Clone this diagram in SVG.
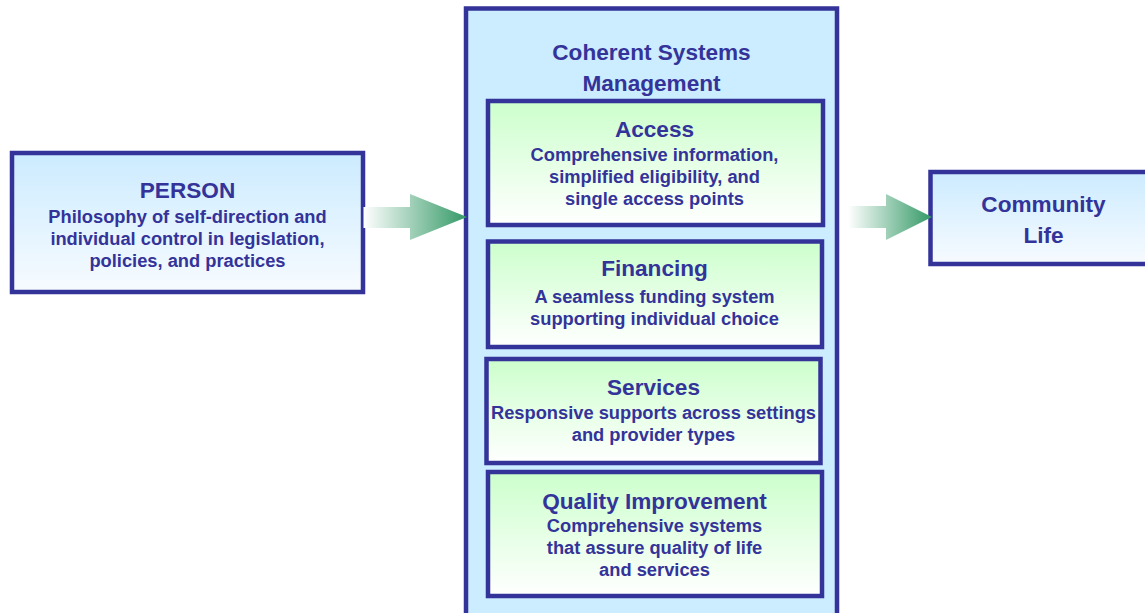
<svg xmlns="http://www.w3.org/2000/svg" width="1145" height="613" viewBox="0 0 1145 613">
  <defs>
    <linearGradient id="blueFade" x1="0" y1="0" x2="0" y2="1">
      <stop offset="0" stop-color="#CCEBFF"/>
      <stop offset="1" stop-color="#F7FBFF"/>
    </linearGradient>
    <linearGradient id="greenFade" x1="0" y1="0" x2="0" y2="1">
      <stop offset="0" stop-color="#CCFFCC"/>
      <stop offset="1" stop-color="#FFFFFF"/>
    </linearGradient>
    <linearGradient id="arrowFade" x1="0" y1="0" x2="1" y2="0">
      <stop offset="0" stop-color="#FFFFFF"/>
      <stop offset="1" stop-color="#339966"/>
    </linearGradient>
    <style>
      .frame { stroke: #333399; stroke-width: 4.5; }
      .outer { fill: #CCECFF; }
      .blue { fill: url(#blueFade); }
      .green { fill: url(#greenFade); }
      text { font-family: "Liberation Sans", Arial, sans-serif; font-weight: bold; fill: #333399; text-anchor: middle; }
      .title { font-size: 22.6px; }
      .body { font-size: 18.3px; }
      .flow { fill: url(#arrowFade); }
    </style>
  </defs>

  <!-- container: coherent systems management -->
  <g id="csm">
    <rect class="frame outer" x="466" y="8.5" width="371" height="640"/>
    <text class="title" x="651.5" y="60">Coherent Systems</text>
    <text class="title" x="651.5" y="91">Management</text>
  </g>

  <g id="person">
    <rect class="frame blue" x="12" y="153" width="351" height="139"/>
    <text class="title" x="187.5" y="198">PERSON</text>
    <text class="body" x="187.5" y="222.5">Philosophy of self-direction and</text>
    <text class="body" x="187.5" y="244.5">individual control in legislation,</text>
    <text class="body" x="187.5" y="266.5">policies, and practices</text>
  </g>

  <g id="community">
    <rect class="frame blue" x="930.5" y="172" width="230" height="92"/>
    <text class="title" x="1043.5" y="211.5">Community</text>
    <text class="title" x="1043.5" y="242.5">Life</text>
  </g>

  <g id="access">
    <rect class="frame green" x="488" y="101" width="335" height="124"/>
    <text class="title" x="654.5" y="136.5">Access</text>
    <text class="body" x="654.5" y="160.5">Comprehensive information,</text>
    <text class="body" x="654.5" y="182.5">simplified eligibility, and</text>
    <text class="body" x="654.5" y="204.5">single access points</text>
  </g>

  <g id="financing">
    <rect class="frame green" x="488" y="241.5" width="334" height="105.5"/>
    <text class="title" x="654.5" y="276">Financing</text>
    <text class="body" x="654.5" y="302.5">A seamless funding system</text>
    <text class="body" x="654.5" y="325">supporting individual choice</text>
  </g>

  <g id="services">
    <rect class="frame green" x="486.5" y="359" width="334" height="104"/>
    <text class="title" x="653.5" y="395">Services</text>
    <text class="body" x="653.5" y="418.5">Responsive supports across settings</text>
    <text class="body" x="653.5" y="440.5">and provider types</text>
  </g>

  <g id="quality">
    <rect class="frame green" x="488" y="472" width="334" height="124"/>
    <text class="title" x="654.5" y="508.5">Quality Improvement</text>
    <text class="body" x="654.5" y="531.5">Comprehensive systems</text>
    <text class="body" x="654.5" y="553.5">that assure quality of life</text>
    <text class="body" x="654.5" y="575.5">and services</text>
  </g>

  <!-- block arrows between the stages -->
  <g id="connectors">
    <polygon class="flow" points="363.5,207 410,207 410,194 467,217 410,240 410,228 363.5,228"/>
    <polygon class="flow" points="848,206 886,206 886,194 932,217 886,240 886,228 848,228"/>
  </g>
</svg>
